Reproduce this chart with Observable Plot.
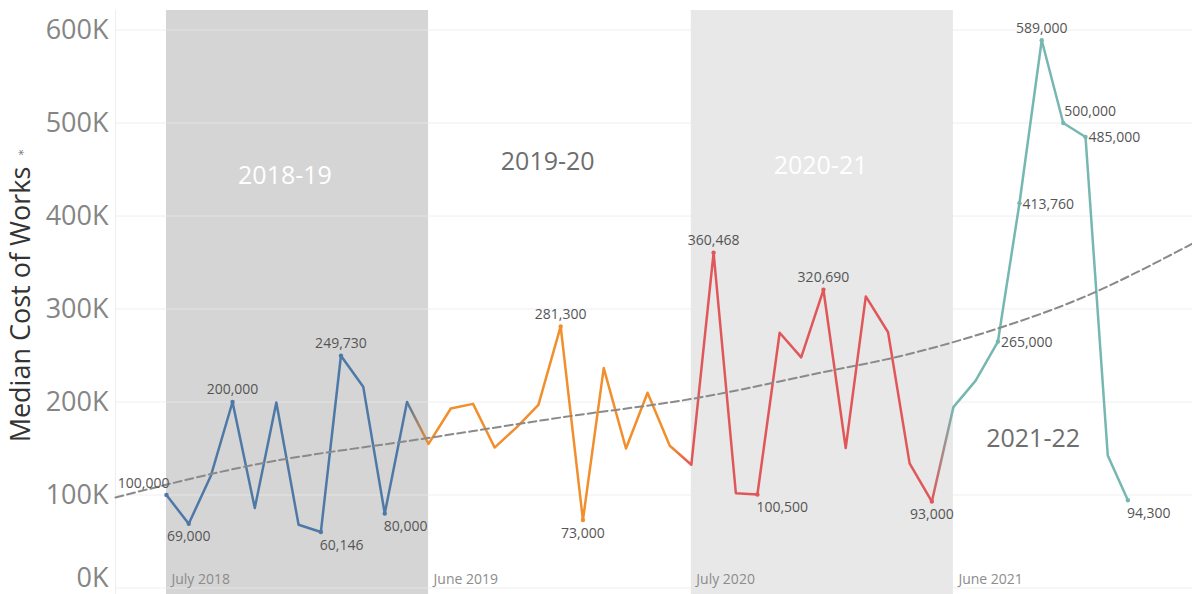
<!DOCTYPE html>
<html><head><meta charset="utf-8">
<script src="https://cdn.jsdelivr.net/npm/d3@7"></script>
<script src="https://cdn.jsdelivr.net/npm/@observablehq/plot@0.6"></script>
<style>
html,body{margin:0;padding:0;background:#fff;}
#chart{width:1192px;height:594px;overflow:hidden;}
svg{font-family:"Open Sans",sans-serif;}
</style></head><body><div id="chart"></div>
<script>
// ---------- data ----------
const months = [
  "2018-07","2018-08","2018-09","2018-10","2018-11","2018-12","2019-01","2019-02","2019-03","2019-04","2019-05","2019-06",
  "2019-07","2019-08","2019-09","2019-10","2019-11","2019-12","2020-01","2020-02","2020-03","2020-04","2020-05","2020-06",
  "2020-07","2020-08","2020-09","2020-10","2020-11","2020-12","2021-01","2021-02","2021-03","2021-04","2021-05","2021-06",
  "2021-07","2021-08","2021-09","2021-10","2021-11","2021-12","2022-01","2022-02","2022-03"
];
const cost = [
  100000, 69000, 121000, 200000, 86000, 199500, 68000, 60146, 249730, 216500, 80000, 200000,
  155000, 193000, 198000, 151000, 173000, 197000, 281300, 73000, 236500, 150000, 210000, 153000,
  132500, 360468, 102000, 100500, 274500, 248000, 320690, 150500, 313500, 275000, 134000, 93000,
  194500, 223000, 265000, 413760, 589000, 500000, 485000, 142500, 94300
];
const fiscalYears = ["2018-19","2019-20","2020-21","2021-22"];
const fyColors = ["#4e79a7","#f28e2b","#e15759","#76b7b2"];

// trend line
const trendDates  = ["2018-04-21","2018-10-26","2019-07-04","2020-01-01","2020-07-14","2020-12-28","2021-04-19","2021-09-05","2021-12-18","2022-05-30"];
const trendValues = [97300, 131700, 161700, 183300, 205000, 231500, 249500, 280100, 309100, 370400];

// labelled points
const labelAboveCentered = ["2018-10","2019-03","2020-01","2020-08","2021-01","2021-11"];
const labelBelowCentered = ["2018-08","2020-02","2021-06"];
const labelBelowStart    = ["2019-02","2019-05","2020-10","2022-03"];
const labelRight         = ["2021-09","2021-10","2022-01"];
const labelAboveStart    = ["2021-12"];
const labelAboveEnd      = ["2018-07"];

// shaded fiscal-year bands
const bandStarts = ["2018-07-01","2020-07-01"];
const bandEnds   = ["2019-07-01","2021-07-01"];
const bandFills  = ["#d5d5d5","#e8e8e8"];

// band edge labels
const edgeLabels = ["July 2018","June 2019","July 2020","June 2021"];
const edgeDates  = ["2018-07-01","2019-07-01","2020-07-01","2021-07-01"];

// fiscal year annotations
const fyLabelDates  = ["2018-12-13","2019-12-14","2020-12-28","2021-10-20"];
const fyLabelValues = [443000, 458500, 454000, 160500];
const fyLabelFills  = ["#ffffff","#6e6e6e","#ffffff","#6e6e6e"];

const yTicks = [0,100000,200000,300000,400000,500000,600000];
const yTitle = "Median Cost of Works";

// ---------- build ----------
const pd = s => new Date(s.length === 7 ? s + "-01T00:00:00Z" : s + "T00:00:00Z");
const fyOf = d => { const y = d.getUTCFullYear(), m = d.getUTCMonth(); const start = m >= 6 ? y : y - 1; return `${start}-${String((start+1)%100).padStart(2,"0")}`; };
const data = months.map((m,i) => { const date = pd(m); return {key:m, date, cost:cost[i], fy:fyOf(date)}; });
const trend = trendDates.map((d,i) => ({date:pd(d), value:trendValues[i]}));
const bands = bandStarts.map((s,i) => ({x1:pd(s), x2:pd(bandEnds[i]), fill:bandFills[i]}));
const edges = edgeLabels.map((t,i) => ({date:pd(edgeDates[i]), text:t}));
const fyLabels = fiscalYears.map((t,i) => ({date:pd(fyLabelDates[i]), value:fyLabelValues[i], text:t, fill:fyLabelFills[i]}));
const transitions = [];
for (let k = 0; k < fiscalYears.length - 1; k++) {
  const a = data.filter(d => d.fy === fiscalYears[k]).at(-1);
  const b = data.find(d => d.fy === fiscalYears[k+1]);
  transitions.push({a, b, id:"tg"+k, c0:fyColors[k], c1:fyColors[k+1]});
}
const fmt = d3.format(",");
const FONT = "Open Sans";

const labelMark = (keys, opts) => Plot.text(data.filter(d => keys.includes(d.key)), {
  x:"date", y:"cost", text:d => fmt(d.cost), fontSize:14, fill:"#555", fontFamily:FONT, ...opts
});

const plot = Plot.plot({
  width:1192, height:594,
  marginLeft:115, marginRight:0, marginTop:10, marginBottom:0,
  style:{fontFamily:FONT, background:"#fff"},
  x:{type:"utc", domain:[pd("2018-04-21"), pd("2022-05-30")], axis:null},
  y:{domain:[-7000, 621000], axis:null},
  color:{domain:fiscalYears, range:fyColors},
  marks:[
    Plot.rect(bands, {x1:"x1", x2:"x2", fill:"fill"}),
    Plot.ruleX([pd("2018-04-21")], {stroke:"#eeeeee", strokeWidth:1}),
    Plot.gridY(yTicks, {stroke:"#eaeaea", strokeOpacity:0.75, strokeWidth:1}),
    Plot.axisY(yTicks.filter(t => t > 0), {tickSize:0, tickPadding:7, tickFormat:d => d/1000 + "K", fontSize:27, fill:"#858585", fontFamily:FONT}),
    Plot.axisY(yTicks.filter(t => t === 0), {tickSize:0, tickPadding:7, tickFormat:d => d/1000 + "K", fontSize:27, fill:"#858585", fontFamily:FONT, dy:-10}),
    Plot.text([yTitle], {frameAnchor:"left", textAnchor:"middle", rotate:-90, dx:-94, dy:2, fontSize:27, fill:"#333", fontFamily:FONT}),
    Plot.text(["⁎"], {frameAnchor:"left", textAnchor:"middle", rotate:-90, dx:-95, dy:-150, fontSize:12, fill:"#777", fontFamily:"DejaVu Sans"}),
    Plot.text(fyLabels, {x:"date", y:"value", text:"text", fill:"fill", fontSize:25, fontFamily:FONT}),
    Plot.text(edges, {x:"date", text:"text", frameAnchor:"bottom", textAnchor:"start", dx:5, dy:-11, fontSize:14, fill:"#8c8c8c", fontFamily:FONT, ariaLabel:"edge-labels"}),
    Plot.line(data, {x:"date", y:"cost", z:"fy", stroke:"fy", strokeWidth:2.5, strokeLinejoin:"round"}),
    ...transitions.map(t => Plot.link([t], {x1:d => d.a.date, y1:d => d.a.cost, x2:d => d.b.date, y2:d => d.b.cost, stroke:`url(#${t.id})`, strokeWidth:2.5})),
    Plot.line(trend, {x:"date", y:"value", curve:"monotone-x", stroke:"#8a8a8a", strokeWidth:2, strokeDasharray:"8,4"}),
    Plot.dot(data.filter(d => [labelAboveCentered,labelBelowCentered,labelBelowStart,labelRight,labelAboveStart,labelAboveEnd].flat().includes(d.key)), {x:"date", y:"cost", r:2.2, fill:"fy"}),
    labelMark(labelAboveCentered, {dy:-12}),
    labelMark(labelBelowCentered, {dy:13}),
    labelMark(labelBelowStart, {textAnchor:"start", dx:-1, dy:13}),
    labelMark(labelRight, {textAnchor:"start", dx:3, dy:1}),
    labelMark(labelAboveStart, {textAnchor:"start", dx:1, dy:-12}),
    labelMark(labelAboveEnd, {textAnchor:"end", dx:3, dy:-11})
  ]
});

// gradients for the colour transitions between fiscal years
const ns = "http://www.w3.org/2000/svg";
const defs = document.createElementNS(ns, "defs");
for (const t of transitions) {
  const g = document.createElementNS(ns, "linearGradient");
  g.setAttribute("id", t.id);
  g.setAttribute("x1", "0"); g.setAttribute("x2", "1"); g.setAttribute("y1", "0"); g.setAttribute("y2", "0");
  [[0, t.c0], [1, t.c1]].forEach(([o, c]) => {
    const s = document.createElementNS(ns, "stop");
    s.setAttribute("offset", o); s.setAttribute("stop-color", c);
    g.appendChild(s);
  });
  defs.appendChild(g);
}
plot.insertBefore(defs, plot.firstChild);
document.getElementById("chart").appendChild(plot);

// translucent boxes behind band edge labels
plot.querySelectorAll('g[aria-label="edge-labels"] text').forEach(t => {
  const b = t.getBBox();
  const r = document.createElementNS(ns, "rect");
  r.setAttribute("x", b.x - 4); r.setAttribute("y", b.y - 1);
  r.setAttribute("width", b.width + 8); r.setAttribute("height", b.height + 2);
  r.setAttribute("fill", "#ffffff"); r.setAttribute("fill-opacity", "0.45");
  if (t.getAttribute("transform")) r.setAttribute("transform", t.getAttribute("transform"));
  t.parentNode.insertBefore(r, t);
});
</script></body></html>
